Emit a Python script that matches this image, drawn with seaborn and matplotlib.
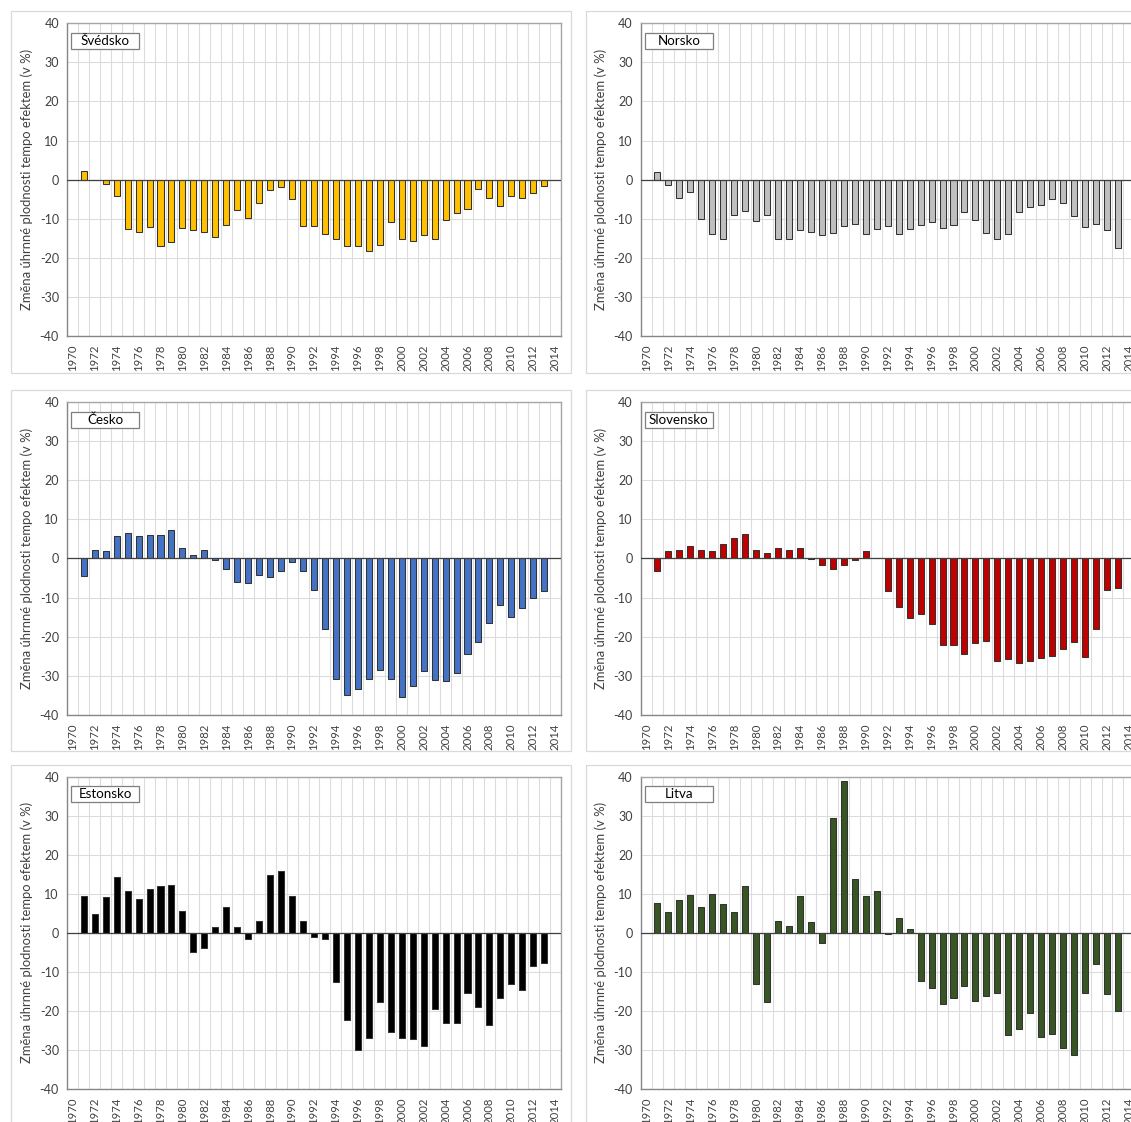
import matplotlib
matplotlib.use("Agg")
import matplotlib.pyplot as plt
from matplotlib.patches import Rectangle
import numpy as np
import pandas as pd
import seaborn as sns

# Years with a bar (1970 and 2014 stay empty on the axis)
years = list(range(1971, 2014))
tick_years = list(range(1970, 2015, 2))
y_ticks = list(range(-40, 41, 10))

svedsko = [2.2, -0.2, -1.2, -4.2, -12.5, -13.5, -12.0, -17.1, -16.0, -12.3,
           -13.0, -13.5, -14.8, -11.7, -7.8, -9.8, -5.9, -2.6, -1.9, -4.9,
           -11.8, -11.8, -13.9, -15.3, -17.1, -17.0, -18.2, -16.8, -10.9, -15.3,
           -15.7, -14.2, -15.1, -10.3, -8.5, -7.5, -2.4, -4.8, -6.7, -4.1,
           -4.6, -3.5, -1.7]
norsko = [2.0, -1.3, -4.7, -3.2, -10.1, -13.8, -15.1, -9.0, -7.9, -10.7,
          -9.1, -15.1, -15.1, -12.8, -13.3, -14.1, -13.6, -11.8, -11.3, -13.8,
          -12.6, -11.8, -13.8, -12.7, -11.6, -10.8, -12.4, -11.6, -8.3, -10.4,
          -13.6, -15.1, -13.8, -8.2, -6.9, -6.6, -4.9, -6.0, -9.2, -12.0,
          -11.4, -12.9, -17.4]
cesko = [-4.4, 2.3, 1.9, 5.7, 6.4, 5.8, 6.0, 6.0, 7.4, 2.6,
         0.8, 2.1, -0.3, -2.7, -6.0, -6.2, -4.3, -4.8, -3.3, -0.9,
         -3.3, -8.1, -18.1, -30.7, -35.0, -33.3, -30.9, -28.6, -30.7, -35.3,
         -32.7, -28.7, -31.0, -31.3, -29.3, -24.4, -21.4, -16.4, -11.8, -14.9,
         -12.7, -10.1, -8.2]
slovensko = [-3.3, 2.0, 2.1, 3.2, 2.3, 1.9, 3.7, 5.3, 6.3, 2.3,
             1.3, 2.7, 2.1, 2.6, -0.2, -1.6, -2.6, -1.6, -0.3, 1.9,
             0.1, -8.3, -12.4, -15.1, -14.1, -16.7, -22.0, -22.0, -24.3, -21.7,
             -21.1, -26.2, -25.7, -26.6, -26.2, -25.5, -25.0, -23.1, -21.4, -25.2,
             -18.0, -8.0, -7.5]
estonsko = [9.4, 4.8, 9.1, 14.2, 10.7, 8.6, 11.1, 12.0, 12.2, 5.6,
            -4.9, -3.9, 1.4, 6.6, 1.5, -1.7, 2.9, 14.9, 15.7, 9.5,
            3.1, -1.0, -1.5, -12.5, -22.3, -30.1, -26.9, -17.8, -25.4, -26.9,
            -27.2, -29.1, -19.4, -23.0, -23.2, -15.4, -19.1, -23.6, -16.7, -13.2,
            -14.7, -8.5, -7.7]
litva = [7.7, 5.4, 8.4, 9.7, 6.6, 9.9, 7.3, 5.2, 11.9, -13.2,
         -17.6, 3.1, 1.8, 9.4, 2.7, -2.6, 29.4, 38.9, 13.8, 9.4,
         10.8, -0.4, 3.7, 0.9, -12.4, -14.2, -18.3, -16.6, -13.7, -17.4,
         -16.1, -15.3, -26.3, -24.7, -20.6, -26.8, -26.0, -29.6, -31.2, -15.5,
         -7.9, -15.6, -20.1]

countries = ["Švédsko", "Norsko", "Česko", "Slovensko", "Estonsko", "Litva"]
series = [svedsko, norsko, cesko, slovensko, estonsko, litva]
colors = ["#FFC000", "#BFBFBF", "#4472C4", "#C00000", "#000000", "#375623"]

y_label = "Změna úhrnné plodnosti tempo efektem (v %)"

sns.set_theme(style="white")
plt.rcParams["font.family"] = ["Lato", "DejaVu Sans"]

W, H = 1131, 1122
fig = plt.figure(figsize=(W / 100, H / 100), dpi=100)
fig.patch.set_facecolor("white")


def frac_rect(left, top, right, bottom):
    return [left / W, 1 - bottom / H, (right - left) / W, (bottom - top) / H]


# chart-area frames (pixel boxes)
frames = [(11, 11, 571, 373), (586, 11, 1145, 373),
          (11, 390, 571, 751), (586, 390, 1145, 751),
          (11, 765, 571, 1130), (586, 765, 1145, 1130)]
for l, t, r, b in frames:
    fig.add_artist(Rectangle((l / W, 1 - b / H), (r - l) / W, (b - t) / H,
                             transform=fig.transFigure, fill=False,
                             edgecolor="#D9D9D9", linewidth=0.9))

# plot areas (pixel boxes)
plot_boxes = [(67.3, 23.3, 560.7, 336.0), (641.0, 23.3, 1134.4, 336.0),
              (67.3, 402.0, 560.7, 715.0), (641.0, 402.0, 1134.4, 715.0),
              (67.3, 776.5, 560.7, 1089.0), (641.0, 776.5, 1134.4, 1089.0)]

for name, vals, col, box in zip(countries, series, colors, plot_boxes):
    ax = fig.add_axes(frac_rect(*box))
    df = pd.DataFrame({"rok": years, "hodnota": vals})
    sns.barplot(data=df, x="rok", y="hodnota", native_scale=True, width=0.55,
                color=col, saturation=1, edgecolor="#333333", linewidth=0.75,
                errorbar=None, ax=ax, zorder=3)
    ax.set_xlim(1969.5, 2014.5)
    ax.set_ylim(-40, 40)
    ax.set_yticks(y_ticks)
    ax.set_yticklabels([str(v) for v in y_ticks])
    ax.set_xticks(tick_years)
    ax.set_xticklabels([str(v) for v in tick_years], rotation=90)
    ax.set_xticks(np.arange(1969.5, 2015, 1.0), minor=True)
    ax.tick_params(axis="both", which="both", length=0, colors="#404040")
    ax.tick_params(axis="y", pad=6, labelsize=9)
    ax.tick_params(axis="x", pad=6, labelsize=8.2)
    ax.grid(False)
    ax.grid(which="minor", axis="x", color="#DCDCDC", linewidth=0.8, zorder=0)
    ax.grid(which="major", axis="y", color="#DCDCDC", linewidth=0.8, zorder=0)
    ax.set_axisbelow(True)
    ax.axhline(0, color="#404040", linewidth=0.9, zorder=4)
    for side in ["top", "right"]:
        ax.spines[side].set_color("#A6A6A6")
        ax.spines[side].set_linewidth(1.0)
    for side in ["left", "bottom"]:
        ax.spines[side].set_color("#868686")
        ax.spines[side].set_linewidth(1.0)
    ax.set_xlabel("")
    ax.set_ylabel(y_label, fontsize=9.4, color="#404040", va="center")
    ax.yaxis.set_label_coords(-0.082, 0.5)

    # country label box
    bw, bh = 68 / 493.4, 16.5 / 312.7
    bx, by = 0.0075, 1 - (32.8 - 23.3) / 312.7 - bh
    ax.add_patch(Rectangle((bx, by), bw, bh, transform=ax.transAxes,
                           facecolor="white", edgecolor="#7F7F7F",
                           linewidth=0.9, zorder=6))
    ax.text(bx + bw / 2, by + bh / 2, name, transform=ax.transAxes,
            ha="center", va="center", fontsize=9.6, color="#000000", zorder=7)

fig.savefig("out.png", dpi=100, facecolor="white")
